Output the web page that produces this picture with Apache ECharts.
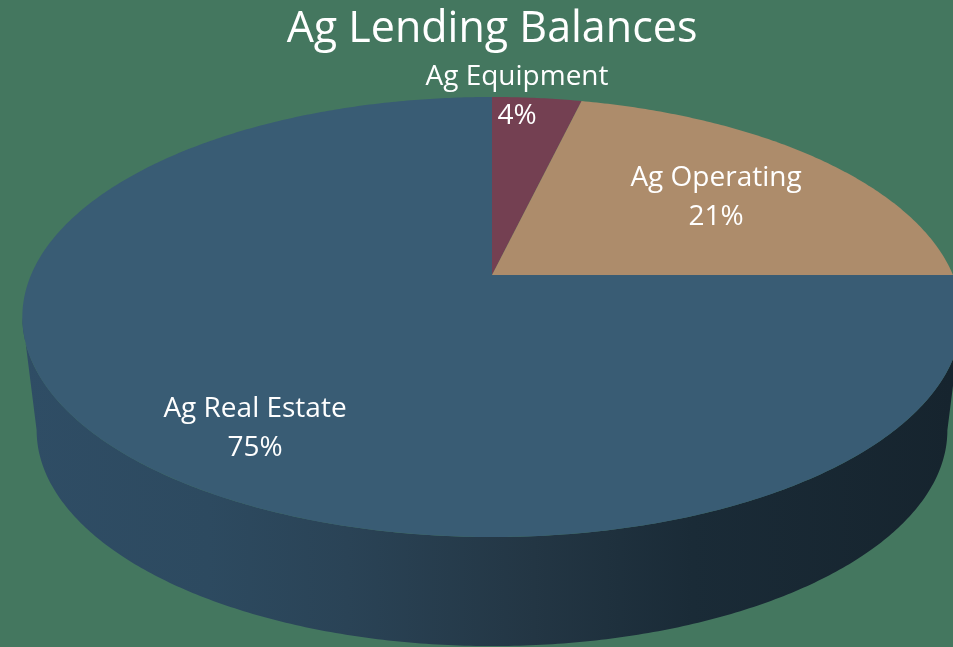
<!DOCTYPE html>
<html><head><meta charset="utf-8">
<style>html,body{margin:0;padding:0;background:#44775f}#c{width:953px;height:647px}</style>
<script src="https://cdn.jsdelivr.net/npm/echarts@6/dist/echarts.min.js"></script>
</head><body><div id="c"></div>
<script>
var titleText = 'Ag Lending Balances';
var categories = ['Ag Equipment', 'Ag Operating', 'Ag Real Estate'];
var shares = [3.7, 21.3, 75];
var sliceColors = ['#744052', '#ad8c6b', '#395c74'];
var labelAnchors = [[517, 97], [716, 198], [255, 429]];

var K = 0.191; // perspective strength of the tilted disc
var TOP = {cx: 492, y0: 275, a: 461, b: 212};
var BOTTOM = {cx: 492, y0: 389, a: 447, b: 208};
var WALL_FROM = Math.acos(-K), WALL_TO = 2 * Math.PI - WALL_FROM;
var total = shares.reduce(function (s, v) { return s + v; }, 0);

function project(p, t) {
  var u = Math.sin(t), v = -Math.cos(t), w = 1 - K * v;
  return [p.cx + p.a * u / w, p.y0 + p.b * v / w];
}
function arc(p, t0, t1) {
  var n = Math.max(2, Math.ceil(Math.abs(t1 - t0) / 0.01)), pts = [];
  for (var i = 0; i <= n; i++) pts.push(project(p, t0 + (t1 - t0) * i / n));
  return pts;
}
var wallFill = new echarts.graphic.LinearGradient(22, 0, 953, 0, [
  {offset: 0, color: '#2f4d65'},
  {offset: 0.2, color: '#2d4a60'},
  {offset: 0.35, color: '#2a4356'},
  {offset: 0.55, color: '#233644'},
  {offset: 0.72, color: '#1a2b37'},
  {offset: 1, color: '#16242e'}
], true);

function renderItem(params, api) {
  var idx = params.dataIndex, before = 0;
  for (var i = 0; i < idx; i++) before += shares[i];
  var t0 = before / total * 2 * Math.PI;
  var t1 = (before + api.value(0)) / total * 2 * Math.PI;
  var children = [];
  var a = Math.max(t0, WALL_FROM), b = Math.min(t1, WALL_TO);
  if (b > a) {
    children.push({type: 'polygon',
      shape: {points: arc(TOP, a, b).concat(arc(BOTTOM, b, a))},
      style: {fill: wallFill}});
  }
  children.push({type: 'polygon',
    shape: {points: [[TOP.cx, TOP.y0]].concat(arc(TOP, t0, t1))},
    style: {fill: sliceColors[idx]}});
  children.push({type: 'text', z2: 10,
    style: {x: labelAnchors[idx][0], y: labelAnchors[idx][1],
      text: categories[idx] + '\n' + Math.round(api.value(0)) + '%',
      fill: '#ffffff', align: 'center', verticalAlign: 'middle',
      fontFamily: '"Open Sans"', fontSize: 28, lineHeight: 39}});
  return {type: 'group', children: children};
}

var chart = echarts.init(document.getElementById('c'), null, {renderer: 'canvas'});
chart.setOption({
  animation: false,
  backgroundColor: '#44775f',
  title: {text: titleText, left: 487, textAlign: 'center', top: 3,
    textStyle: {color: '#ffffff', fontFamily: '"Open Sans"', fontSize: 43, fontWeight: 'normal'}},
  series: [{
    type: 'custom', coordinateSystem: 'none', renderItem: renderItem, clip: false,
    data: shares.map(function (v, i) { return {name: categories[i], value: [v]}; })
  }]
});
</script></body></html>
